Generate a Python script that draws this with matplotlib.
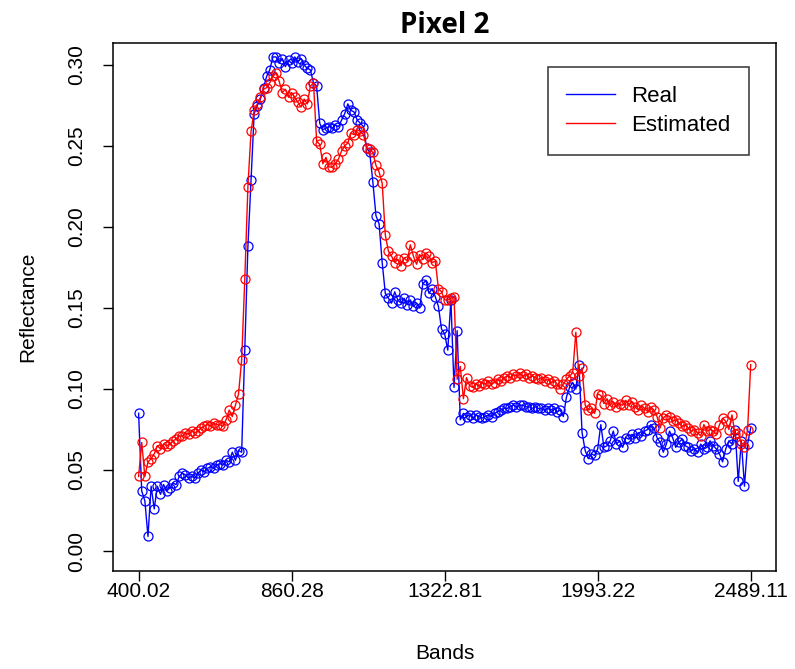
import matplotlib
matplotlib.use("Agg")
import matplotlib.pyplot as plt
import numpy as np

plt.rcParams['font.family'] = ['Liberation Sans', 'DejaVu Sans']

tick_labels = ["400.02", "860.28", "1322.81", "1993.22", "2489.11"]
tick_index = [0, 49, 98, 147, 196]

real = [
    0.085, 0.037, 0.031, 0.009, 0.040, 0.026, 0.040, 0.035, 0.041, 0.037,
    0.039, 0.042, 0.041, 0.046, 0.048, 0.047, 0.045, 0.046, 0.045, 0.048,
    0.050, 0.049, 0.051, 0.052, 0.051, 0.053, 0.054, 0.053, 0.056, 0.055,
    0.061, 0.056, 0.062, 0.061, 0.124, 0.188, 0.229, 0.270, 0.275, 0.279,
    0.286, 0.293, 0.297, 0.305, 0.305, 0.301, 0.304, 0.299, 0.303, 0.301,
    0.305, 0.302, 0.304, 0.300, 0.298, 0.297, 0.289, 0.287, 0.264, 0.260,
    0.261, 0.262, 0.261, 0.263, 0.262, 0.266, 0.270, 0.276, 0.272, 0.271,
    0.266, 0.264, 0.262, 0.249, 0.246, 0.228, 0.207, 0.202, 0.178, 0.159,
    0.156, 0.153, 0.160, 0.155, 0.153, 0.156, 0.152, 0.155, 0.151, 0.153,
    0.150, 0.165, 0.167, 0.159, 0.162, 0.157, 0.151, 0.137, 0.134, 0.124,
    0.155, 0.101, 0.136, 0.081, 0.085, 0.083, 0.084, 0.082, 0.084, 0.083,
    0.082, 0.083, 0.084, 0.083, 0.085, 0.086, 0.087, 0.088, 0.088, 0.089,
    0.090, 0.089, 0.090, 0.090, 0.089, 0.089, 0.088, 0.089, 0.088, 0.088,
    0.087, 0.088, 0.087, 0.088, 0.086, 0.087, 0.083, 0.095, 0.101, 0.104,
    0.100, 0.115, 0.073, 0.062, 0.057, 0.060, 0.059, 0.063, 0.078, 0.064,
    0.065, 0.068, 0.074, 0.066, 0.068, 0.064, 0.070, 0.069, 0.072, 0.070,
    0.073, 0.071, 0.074, 0.075, 0.078, 0.076, 0.070, 0.067, 0.061, 0.066,
    0.074, 0.070, 0.064, 0.067, 0.069, 0.065, 0.064, 0.062, 0.063, 0.061,
    0.066, 0.063, 0.064, 0.068, 0.065, 0.063, 0.060, 0.055, 0.063, 0.068,
    0.066, 0.075, 0.043, 0.068, 0.040, 0.066, 0.076,
]

estimated = [
    0.046, 0.067, 0.046, 0.055, 0.057, 0.060, 0.065, 0.063, 0.066, 0.065,
    0.066, 0.068, 0.069, 0.071, 0.071, 0.073, 0.072, 0.074, 0.073, 0.074,
    0.076, 0.077, 0.078, 0.077, 0.079, 0.078, 0.078, 0.077, 0.081, 0.087,
    0.083, 0.090, 0.097, 0.118, 0.168, 0.225, 0.259, 0.272, 0.276, 0.280,
    0.285, 0.286, 0.289, 0.293, 0.295, 0.290, 0.283, 0.285, 0.280, 0.283,
    0.280, 0.277, 0.274, 0.279, 0.276, 0.287, 0.289, 0.253, 0.251, 0.239,
    0.243, 0.237, 0.237, 0.239, 0.242, 0.247, 0.250, 0.252, 0.258, 0.257,
    0.260, 0.259, 0.257, 0.249, 0.248, 0.246, 0.238, 0.234, 0.227, 0.195,
    0.185, 0.182, 0.178, 0.180, 0.176, 0.181, 0.179, 0.189, 0.182, 0.177,
    0.183, 0.180, 0.184, 0.182, 0.178, 0.179, 0.162, 0.160, 0.155, 0.155,
    0.156, 0.157, 0.106, 0.114, 0.094, 0.107, 0.102, 0.101, 0.103, 0.102,
    0.104, 0.103, 0.105, 0.103, 0.104, 0.106, 0.105, 0.107, 0.108, 0.107,
    0.109, 0.108, 0.110, 0.108, 0.109, 0.107, 0.108, 0.107, 0.106, 0.107,
    0.105, 0.106, 0.104, 0.105, 0.103, 0.100, 0.103, 0.106, 0.108, 0.110,
    0.135, 0.108, 0.113, 0.090, 0.087, 0.088, 0.085, 0.097, 0.096, 0.091,
    0.094, 0.090, 0.092, 0.089, 0.091, 0.090, 0.093, 0.090, 0.092, 0.089,
    0.087, 0.090, 0.088, 0.086, 0.089, 0.087, 0.083, 0.076, 0.082, 0.084,
    0.083, 0.080, 0.081, 0.079, 0.077, 0.078, 0.076, 0.074, 0.075, 0.073,
    0.071, 0.078, 0.074, 0.075, 0.074, 0.072, 0.078, 0.082, 0.080, 0.075,
    0.084, 0.072, 0.073, 0.066, 0.064, 0.075, 0.115,
]

y_ticks = [0.00, 0.05, 0.10, 0.15, 0.20, 0.25, 0.30]

bands = np.arange(len(real))

fig = plt.figure(figsize=(7.95, 6.69), dpi=100)
ax = fig.add_axes([113/795, 1-571/669, (776-113)/795, (571-43)/669])

ax.plot(bands, real, color='blue', lw=1, marker='o', mfc='none', mec='blue',
        ms=6.5, mew=0.9, label='Real')
ax.plot(bands, estimated, color='red', lw=1, marker='o', mfc='none', mec='red',
        ms=6.5, mew=0.9, label='Estimated')

ax.set_xlim(-8.2, 204.1)
ax.set_ylim(-20/1620, 508/1620)

ax.set_xticks(tick_index)
ax.set_xticklabels(tick_labels)
ax.set_yticks(y_ticks)
ax.set_yticklabels([f"{v:.2f}" for v in y_ticks], rotation=90, va='center')

ax.tick_params(axis='both', direction='out', length=7, width=1, labelsize=15, color='black')
ax.tick_params(axis='x', pad=1)
ax.tick_params(axis='y', pad=12)
for s in ax.spines.values():
    s.set_linewidth(1.1)
    s.set_color('black')

ax.set_xlabel('Bands', fontsize=15, labelpad=31)
ax.set_ylabel('Reflectance', fontsize=15, labelpad=22)
ax.set_title('Pixel 2', fontsize=20, fontweight='bold', pad=7, family=['Open Sans', 'DejaVu Sans'])

leg = ax.legend(loc='upper right', bbox_to_anchor=(749/795, 1-67/669), bbox_transform=fig.transFigure,
                fontsize=16, frameon=True, fancybox=False, edgecolor='black',
                handlelength=2.2, handletextpad=0.7, borderpad=0.85, labelspacing=0.35,
                borderaxespad=0)
leg.get_frame().set_linewidth(1.1)
for h in leg.legend_handles:
    h.set_marker('')

fig.savefig('out.png', dpi=100)
